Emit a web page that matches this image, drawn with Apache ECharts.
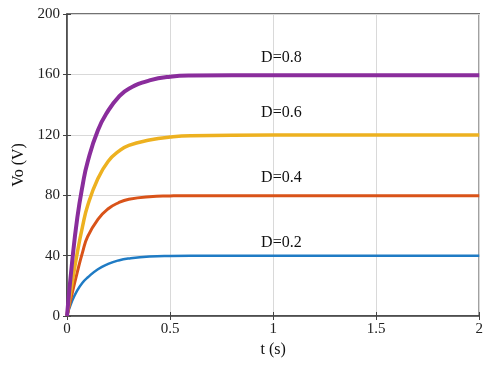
<!DOCTYPE html>
<html>
<head>
<meta charset="utf-8">
<script src="https://cdn.jsdelivr.net/npm/echarts@6/dist/echarts.min.js"></script>
<style>
html,body{margin:0;padding:0;background:#fff;}
#main{width:486px;height:367px;}
</style>
</head>
<body>
<div id="main"></div>
<script>
// time samples (s)
var tData = [0, 0.025, 0.05, 0.075, 0.1, 0.15, 0.2, 0.25, 0.3, 0.4, 0.5, 0.6, 1, 1.5, 2];
// output voltage (V)
var vD02 = [0, 10, 17, 22, 25.5, 31, 34.5, 36.8, 38.1, 39.4, 39.8, 39.9, 39.9, 39.9, 39.9];
var vD04 = [0, 15, 29, 42, 52.5, 64, 71, 75, 77.3, 79, 79.5, 79.7, 79.7, 79.7, 79.7];
var vD06 = [0, 22, 42, 59, 73, 91, 102.5, 109, 113, 116.5, 118.5, 119.4, 119.8, 119.8, 119.8];
var vD08 = [0, 36, 65, 86, 102, 123, 136, 145, 150.5, 156, 158.5, 159.2, 159.4, 159.4, 159.4];
var names = ['D=0.2', 'D=0.4', 'D=0.6', 'D=0.8'];
var xTicks = ['0', '0.5', '1', '1.5', '2'];
var labelT = 1.04;

var color = ['#1f7bc4', '#d95319', '#edb120', '#8a2d9c'];
var widths = [2.5, 3, 3.5, 4];
var offsets = [-13, -18, -22, -18];
var all = [vD02, vD04, vD06, vD08];

function pairs(v) {
    var out = [];
    for (var i = 0; i < tData.length; i++) out.push([tData[i], v[i]]);
    return out;
}

var myChart = echarts.init(document.getElementById('main'));
var font = 'Liberation Serif';
var series = [];
for (var k = 0; k < all.length; k++) {
    var last = all[k][all[k].length - 1];
    series.push({
        name: names[k],
        type: 'line',
        data: pairs(all[k]),
        smooth: 0.5,
        showSymbol: false,
        lineStyle: { color: color[k], width: widths[k] },
        markPoint: {
            symbol: 'circle',
            symbolSize: 0,
            data: [{ coord: [labelT, last] }],
            label: {
                show: true,
                formatter: names[k],
                position: 'inside',
                offset: [0, offsets[k]],
                color: '#111',
                fontFamily: font,
                fontSize: 16
            }
        }
    });
}

var option = {
    animation: false,
    grid: {
        left: 67,
        right: 3,
        top: 14,
        bottom: 51,
        show: true,
        borderColor: '#444',
        borderWidth: 1.5
    },
    xAxis: [
        {
            type: 'value',
            min: 0,
            max: 2,
            interval: 0.5,
            name: 't (s)',
            nameLocation: 'middle',
            nameGap: 24,
            nameTextStyle: { fontFamily: font, fontSize: 16, color: '#111' },
            axisLine: { show: true, lineStyle: { color: '#444', width: 1.5 } },
            axisTick: { show: true, inside: true, length: 4, lineStyle: { color: '#444' } },
            axisLabel: {
                fontFamily: font,
                fontSize: 15,
                color: '#222',
                margin: 6,
                formatter: function (v) { return xTicks[Math.round(v / 0.5)]; }
            },
            splitLine: { show: true, lineStyle: { color: '#d9d9d9', width: 1 } }
        },
        {
            type: 'value',
            position: 'top',
            min: 0,
            max: 2,
            interval: 0.5,
            axisLine: { show: false },
            axisTick: { show: true, inside: true, length: 4, lineStyle: { color: '#444' } },
            axisLabel: { show: false },
            splitLine: { show: false }
        }
    ],
    yAxis: [
        {
            type: 'value',
            min: 0,
            max: 200,
            interval: 40,
            name: 'Vo (V)',
            nameLocation: 'middle',
            nameGap: 27,
            nameTextStyle: { fontFamily: font, fontSize: 16, color: '#111' },
            axisLine: { show: true, lineStyle: { color: '#444', width: 1.5 } },
            axisTick: { show: true, inside: true, length: 4, lineStyle: { color: '#444' } },
            axisLabel: { fontFamily: font, fontSize: 15, color: '#222', margin: 7 },
            splitLine: { show: true, lineStyle: { color: '#d9d9d9', width: 1 } }
        },
        {
            type: 'value',
            position: 'right',
            min: 0,
            max: 200,
            interval: 40,
            axisLine: { show: false },
            axisTick: { show: true, inside: true, length: 4, lineStyle: { color: '#444' } },
            axisLabel: { show: false },
            splitLine: { show: false }
        }
    ],
    series: series
};
myChart.setOption(option, true);
</script>
</body>
</html>
